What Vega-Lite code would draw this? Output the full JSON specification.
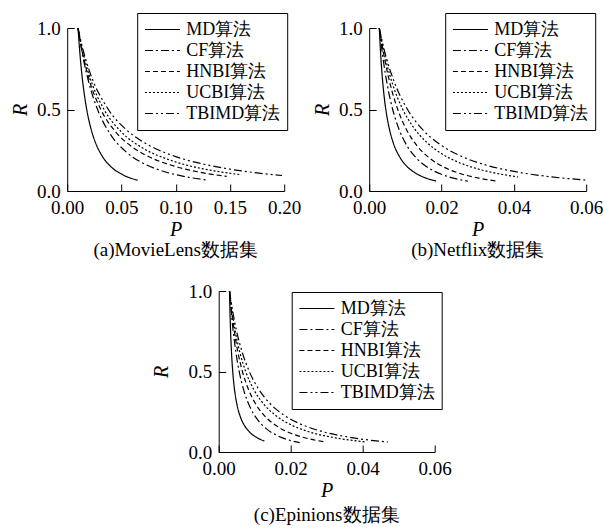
{
  "$schema": "https://vega.github.io/schema/vega-lite/v6.json",
  "padding": {"left": 10, "top": 12, "right": 0, "bottom": 0},
  "datasets": {
    "pr": [
      {"g":"a","m":"MD算法","P":0.010,"R":1.0},{"g":"a","m":"MD算法","P":0.011,"R":0.905},{"g":"a","m":"MD算法","P":0.012,"R":0.822},{"g":"a","m":"MD算法","P":0.014,"R":0.687},{"g":"a","m":"MD算法","P":0.016,"R":0.583},{"g":"a","m":"MD算法","P":0.018,"R":0.5},{"g":"a","m":"MD算法","P":0.022,"R":0.38},{"g":"a","m":"MD算法","P":0.026,"R":0.298},{"g":"a","m":"MD算法","P":0.032,"R":0.217},{"g":"a","m":"MD算法","P":0.040,"R":0.151},{"g":"a","m":"MD算法","P":0.050,"R":0.104},{"g":"a","m":"MD算法","P":0.065,"R":0.066},
      {"g":"a","m":"CF算法","P":0.010,"R":1.0},{"g":"a","m":"CF算法","P":0.012,"R":0.916},{"g":"a","m":"CF算法","P":0.015,"R":0.808},{"g":"a","m":"CF算法","P":0.020,"R":0.664},{"g":"a","m":"CF算法","P":0.028,"R":0.5},{"g":"a","m":"CF算法","P":0.040,"R":0.346},{"g":"a","m":"CF算法","P":0.055,"R":0.236},{"g":"a","m":"CF算法","P":0.070,"R":0.170},{"g":"a","m":"CF算法","P":0.090,"R":0.118},{"g":"a","m":"CF算法","P":0.110,"R":0.0865},{"g":"a","m":"CF算法","P":0.130,"R":0.066},
      {"g":"a","m":"HNBI算法","P":0.010,"R":1.0},{"g":"a","m":"HNBI算法","P":0.012,"R":0.92},{"g":"a","m":"HNBI算法","P":0.015,"R":0.82},{"g":"a","m":"HNBI算法","P":0.020,"R":0.689},{"g":"a","m":"HNBI算法","P":0.031,"R":0.5},{"g":"a","m":"HNBI算法","P":0.045,"R":0.36},{"g":"a","m":"HNBI算法","P":0.060,"R":0.27},{"g":"a","m":"HNBI算法","P":0.080,"R":0.196},{"g":"a","m":"HNBI算法","P":0.100,"R":0.15},{"g":"a","m":"HNBI算法","P":0.120,"R":0.118},{"g":"a","m":"HNBI算法","P":0.147,"R":0.09},
      {"g":"a","m":"UCBI算法","P":0.010,"R":1.0},{"g":"a","m":"UCBI算法","P":0.012,"R":0.928},{"g":"a","m":"UCBI算法","P":0.015,"R":0.837},{"g":"a","m":"UCBI算法","P":0.020,"R":0.716},{"g":"a","m":"UCBI算法","P":0.034,"R":0.5},{"g":"a","m":"UCBI算法","P":0.050,"R":0.362},{"g":"a","m":"UCBI算法","P":0.070,"R":0.262},{"g":"a","m":"UCBI算法","P":0.090,"R":0.201},{"g":"a","m":"UCBI算法","P":0.110,"R":0.159},{"g":"a","m":"UCBI算法","P":0.135,"R":0.124},{"g":"a","m":"UCBI算法","P":0.160,"R":0.1},
      {"g":"a","m":"TBIMD算法","P":0.010,"R":1.0},{"g":"a","m":"TBIMD算法","P":0.012,"R":0.938},{"g":"a","m":"TBIMD算法","P":0.015,"R":0.856},{"g":"a","m":"TBIMD算法","P":0.020,"R":0.746},{"g":"a","m":"TBIMD算法","P":0.038,"R":0.5},{"g":"a","m":"TBIMD算法","P":0.055,"R":0.373},{"g":"a","m":"TBIMD算法","P":0.075,"R":0.282},{"g":"a","m":"TBIMD算法","P":0.100,"R":0.211},{"g":"a","m":"TBIMD算法","P":0.125,"R":0.166},{"g":"a","m":"TBIMD算法","P":0.150,"R":0.134},{"g":"a","m":"TBIMD算法","P":0.175,"R":0.111},{"g":"a","m":"TBIMD算法","P":0.198,"R":0.095},

      {"g":"b","m":"MD算法","P":0.0028,"R":1.0},{"g":"b","m":"MD算法","P":0.0031,"R":0.867},{"g":"b","m":"MD算法","P":0.0035,"R":0.733},{"g":"b","m":"MD算法","P":0.0040,"R":0.608},{"g":"b","m":"MD算法","P":0.0046,"R":0.5},{"g":"b","m":"MD算法","P":0.0055,"R":0.389},{"g":"b","m":"MD算法","P":0.0068,"R":0.286},{"g":"b","m":"MD算法","P":0.0083,"R":0.214},{"g":"b","m":"MD算法","P":0.0103,"R":0.154},{"g":"b","m":"MD算法","P":0.0128,"R":0.110},{"g":"b","m":"MD算法","P":0.0155,"R":0.081},{"g":"b","m":"MD算法","P":0.0185,"R":0.061},
      {"g":"b","m":"CF算法","P":0.0028,"R":1.0},{"g":"b","m":"CF算法","P":0.0033,"R":0.904},{"g":"b","m":"CF算法","P":0.0040,"R":0.787},{"g":"b","m":"CF算法","P":0.0050,"R":0.651},{"g":"b","m":"CF算法","P":0.0065,"R":0.5},{"g":"b","m":"CF算法","P":0.0083,"R":0.376},{"g":"b","m":"CF算法","P":0.0106,"R":0.272},{"g":"b","m":"CF算法","P":0.0133,"R":0.196},{"g":"b","m":"CF算法","P":0.0163,"R":0.143},{"g":"b","m":"CF算法","P":0.0198,"R":0.104},{"g":"b","m":"CF算法","P":0.0233,"R":0.079},{"g":"b","m":"CF算法","P":0.0273,"R":0.060},
      {"g":"b","m":"HNBI算法","P":0.0028,"R":1.0},{"g":"b","m":"HNBI算法","P":0.0034,"R":0.917},{"g":"b","m":"HNBI算法","P":0.0043,"R":0.807},{"g":"b","m":"HNBI算法","P":0.0058,"R":0.656},{"g":"b","m":"HNBI算法","P":0.0079,"R":0.5},{"g":"b","m":"HNBI算法","P":0.0103,"R":0.377},{"g":"b","m":"HNBI算法","P":0.0133,"R":0.275},{"g":"b","m":"HNBI算法","P":0.0168,"R":0.2},{"g":"b","m":"HNBI算法","P":0.0208,"R":0.145},{"g":"b","m":"HNBI算法","P":0.0253,"R":0.106},{"g":"b","m":"HNBI算法","P":0.0303,"R":0.079},{"g":"b","m":"HNBI算法","P":0.0356,"R":0.06},
      {"g":"b","m":"UCBI算法","P":0.0028,"R":1.0},{"g":"b","m":"UCBI算法","P":0.0035,"R":0.916},{"g":"b","m":"UCBI算法","P":0.0046,"R":0.804},{"g":"b","m":"UCBI算法","P":0.0065,"R":0.654},{"g":"b","m":"UCBI算法","P":0.0093,"R":0.5},{"g":"b","m":"UCBI算法","P":0.0123,"R":0.389},{"g":"b","m":"UCBI算法","P":0.0158,"R":0.301},{"g":"b","m":"UCBI算法","P":0.0198,"R":0.232},{"g":"b","m":"UCBI算法","P":0.0243,"R":0.18},{"g":"b","m":"UCBI算法","P":0.0293,"R":0.14},{"g":"b","m":"UCBI算法","P":0.0353,"R":0.108},{"g":"b","m":"UCBI算法","P":0.0412,"R":0.086},
      {"g":"b","m":"TBIMD算法","P":0.0028,"R":1.0},{"g":"b","m":"TBIMD算法","P":0.0036,"R":0.918},{"g":"b","m":"TBIMD算法","P":0.0048,"R":0.813},{"g":"b","m":"TBIMD算法","P":0.0070,"R":0.665},{"g":"b","m":"TBIMD算法","P":0.0106,"R":0.5},{"g":"b","m":"TBIMD算法","P":0.0148,"R":0.376},{"g":"b","m":"TBIMD算法","P":0.0198,"R":0.282},{"g":"b","m":"TBIMD算法","P":0.0258,"R":0.21},{"g":"b","m":"TBIMD算法","P":0.0328,"R":0.156},{"g":"b","m":"TBIMD算法","P":0.0408,"R":0.117},{"g":"b","m":"TBIMD算法","P":0.0498,"R":0.088},{"g":"b","m":"TBIMD算法","P":0.0600,"R":0.067},

      {"g":"c","m":"MD算法","P":0.0030,"R":1.0},{"g":"c","m":"MD算法","P":0.0032,"R":0.822},{"g":"c","m":"MD算法","P":0.0035,"R":0.646},{"g":"c","m":"MD算法","P":0.0039,"R":0.5},{"g":"c","m":"MD算法","P":0.0044,"R":0.388},{"g":"c","m":"MD算法","P":0.0050,"R":0.303},{"g":"c","m":"MD算法","P":0.0060,"R":0.22},{"g":"c","m":"MD算法","P":0.0072,"R":0.163},{"g":"c","m":"MD算法","P":0.0086,"R":0.123},{"g":"c","m":"MD算法","P":0.0105,"R":0.091},{"g":"c","m":"MD算法","P":0.0127,"R":0.068},
      {"g":"c","m":"CF算法","P":0.0030,"R":1.0},{"g":"c","m":"CF算法","P":0.0034,"R":0.891},{"g":"c","m":"CF算法","P":0.0040,"R":0.756},{"g":"c","m":"CF算法","P":0.0048,"R":0.617},{"g":"c","m":"CF算法","P":0.0057,"R":0.5},{"g":"c","m":"CF算法","P":0.0070,"R":0.381},{"g":"c","m":"CF算法","P":0.0087,"R":0.279},{"g":"c","m":"CF算法","P":0.0108,"R":0.201},{"g":"c","m":"CF算法","P":0.0132,"R":0.145},{"g":"c","m":"CF算法","P":0.0160,"R":0.105},{"g":"c","m":"CF算法","P":0.0190,"R":0.078},{"g":"c","m":"CF算法","P":0.0225,"R":0.058},
      {"g":"c","m":"HNBI算法","P":0.0030,"R":1.0},{"g":"c","m":"HNBI算法","P":0.0035,"R":0.893},{"g":"c","m":"HNBI算法","P":0.0043,"R":0.755},{"g":"c","m":"HNBI算法","P":0.0053,"R":0.624},{"g":"c","m":"HNBI算法","P":0.0066,"R":0.5},{"g":"c","m":"HNBI算法","P":0.0083,"R":0.387},{"g":"c","m":"HNBI算法","P":0.0105,"R":0.29},{"g":"c","m":"HNBI算法","P":0.0132,"R":0.214},{"g":"c","m":"HNBI算法","P":0.0165,"R":0.156},{"g":"c","m":"HNBI算法","P":0.0202,"R":0.115},{"g":"c","m":"HNBI算法","P":0.0247,"R":0.084},{"g":"c","m":"HNBI算法","P":0.0297,"R":0.062},
      {"g":"c","m":"UCBI算法","P":0.0030,"R":1.0},{"g":"c","m":"UCBI算法","P":0.0036,"R":0.892},{"g":"c","m":"UCBI算法","P":0.0046,"R":0.751},{"g":"c","m":"UCBI算法","P":0.0059,"R":0.617},{"g":"c","m":"UCBI算法","P":0.0075,"R":0.5},{"g":"c","m":"UCBI算法","P":0.0097,"R":0.39},{"g":"c","m":"UCBI算法","P":0.0125,"R":0.298},{"g":"c","m":"UCBI算法","P":0.0160,"R":0.224},{"g":"c","m":"UCBI算法","P":0.0200,"R":0.17},{"g":"c","m":"UCBI算法","P":0.0250,"R":0.126},{"g":"c","m":"UCBI算法","P":0.0325,"R":0.0875},{"g":"c","m":"UCBI算法","P":0.0410,"R":0.062},
      {"g":"c","m":"TBIMD算法","P":0.0030,"R":1.0},{"g":"c","m":"TBIMD算法","P":0.0037,"R":0.898},{"g":"c","m":"TBIMD算法","P":0.0049,"R":0.759},{"g":"c","m":"TBIMD算法","P":0.0065,"R":0.622},{"g":"c","m":"TBIMD算法","P":0.0085,"R":0.5},{"g":"c","m":"TBIMD算法","P":0.0110,"R":0.394},{"g":"c","m":"TBIMD算法","P":0.0140,"R":0.307},{"g":"c","m":"TBIMD算法","P":0.0180,"R":0.231},{"g":"c","m":"TBIMD算法","P":0.0225,"R":0.176},{"g":"c","m":"TBIMD算法","P":0.0280,"R":0.132},{"g":"c","m":"TBIMD算法","P":0.0370,"R":0.089},{"g":"c","m":"TBIMD算法","P":0.0470,"R":0.062}
    ]
  },
  "vconcat": [
    {
      "hconcat": [
        {
          "width": 217, "height": 163,
          "data": {"name": "pr"},
          "transform": [{"filter": "datum.g === 'a'"}],
          "mark": {"type": "line", "color": "#000", "strokeWidth": 1.2, "interpolate": "monotone"},
          "encoding": {
            "x": {"field": "P", "type": "quantitative", "scale": {"domain": [0, 0.2], "nice": false}, "axis": {"values": [0, 0.05, 0.1, 0.15, 0.2], "format": ".2f", "title": "P"}},
            "y": {"field": "R", "type": "quantitative", "scale": {"domain": [0, 1], "nice": false}, "axis": {"values": [0, 0.5, 1], "format": ".1f", "title": "R"}},
            "strokeDash": {"field": "m", "type": "nominal",
              "scale": {"domain": ["MD算法", "CF算法", "HNBI算法", "UCBI算法", "TBIMD算法"], "range": [[1, 0], [8, 3, 2, 3], [5, 3], [2, 2], [8, 3, 2, 3, 2, 3]]},
              "legend": {"title": null, "orient": "none", "legendX": 70, "legendY": -15}}
          },
          "title": {"text": "(a)MovieLens数据集"}
        },
        {
          "width": 217, "height": 163,
          "data": {"name": "pr"},
          "transform": [{"filter": "datum.g === 'b'"}],
          "mark": {"type": "line", "color": "#000", "strokeWidth": 1.2, "interpolate": "monotone"},
          "encoding": {
            "x": {"field": "P", "type": "quantitative", "scale": {"domain": [0, 0.06], "nice": false}, "axis": {"values": [0, 0.02, 0.04, 0.06], "format": ".2f", "title": "P"}},
            "y": {"field": "R", "type": "quantitative", "scale": {"domain": [0, 1], "nice": false}, "axis": {"values": [0, 0.5, 1], "format": ".1f", "title": "R"}},
            "strokeDash": {"field": "m", "type": "nominal",
              "scale": {"domain": ["MD算法", "CF算法", "HNBI算法", "UCBI算法", "TBIMD算法"], "range": [[1, 0], [8, 3, 2, 3], [5, 3], [2, 2], [8, 3, 2, 3, 2, 3]]},
              "legend": {"title": null, "orient": "none", "legendX": 76, "legendY": -15}}
          },
          "title": {"text": "(b)Netflix数据集"}
        }
      ],
      "spacing": 11,
      "resolve": {"scale": {"strokeDash": "independent"}}
    },
    {
      "width": 216, "height": 161,
      "data": {"name": "pr"},
      "transform": [{"filter": "datum.g === 'c'"}],
      "mark": {"type": "line", "color": "#000", "strokeWidth": 1.2, "interpolate": "monotone"},
      "encoding": {
        "x": {"field": "P", "type": "quantitative", "scale": {"domain": [0, 0.06], "nice": false}, "axis": {"values": [0, 0.02, 0.04, 0.06], "format": ".2f", "title": "P"}},
        "y": {"field": "R", "type": "quantitative", "scale": {"domain": [0, 1], "nice": false}, "axis": {"values": [0, 0.5, 1], "format": ".1f", "title": "R", "titlePadding": 16}},
        "strokeDash": {"field": "m", "type": "nominal",
          "scale": {"domain": ["MD算法", "CF算法", "HNBI算法", "UCBI算法", "TBIMD算法"], "range": [[1, 0], [8, 3, 2, 3], [5, 3], [2, 2], [8, 3, 2, 3, 2, 3]]},
          "legend": {"title": null, "orient": "none", "legendX": 73, "legendY": 1}}
      },
      "title": {"text": "(c)Epinions数据集", "offset": 6}
    }
  ],
  "spacing": 22,
  "center": true,
  "resolve": {"scale": {"strokeDash": "independent"}},
  "config": {
    "font": "Liberation Serif",
    "view": {"stroke": null},
    "axis": {
      "grid": false, "domainColor": "#000", "domainWidth": 1, "tickColor": "#000", "tickWidth": 1, "tickSize": -7,
      "labelFont": "Liberation Serif", "labelFontSize": 19, "labelColor": "#000", "labelPadding": 14, "labelFlush": false, "labelOverlap": false,
      "titleFont": "Liberation Serif", "titleFontSize": 20, "titleFontStyle": "italic", "titleFontWeight": "normal", "titleColor": "#000"
    },
    "axisX": {"titlePadding": 2},
    "axisY": {"titlePadding": 6},
    "legend": {
      "symbolType": "M-1,0H3", "symbolSize": 306, "symbolStrokeWidth": 1.2, "symbolStrokeColor": "#000", "symbolFillColor": "transparent",
      "labelFont": "Liberation Serif", "labelFontSize": 18, "labelColor": "#000", "labelOffset": 23, "labelLimit": 300,
      "rowPadding": 2, "padding": 7, "strokeColor": "#000", "fillColor": "#fff"
    },
    "title": {"font": "Liberation Serif", "fontSize": 19, "fontWeight": "normal", "color": "#000", "orient": "bottom", "anchor": "middle", "offset": 2}
  }
}
